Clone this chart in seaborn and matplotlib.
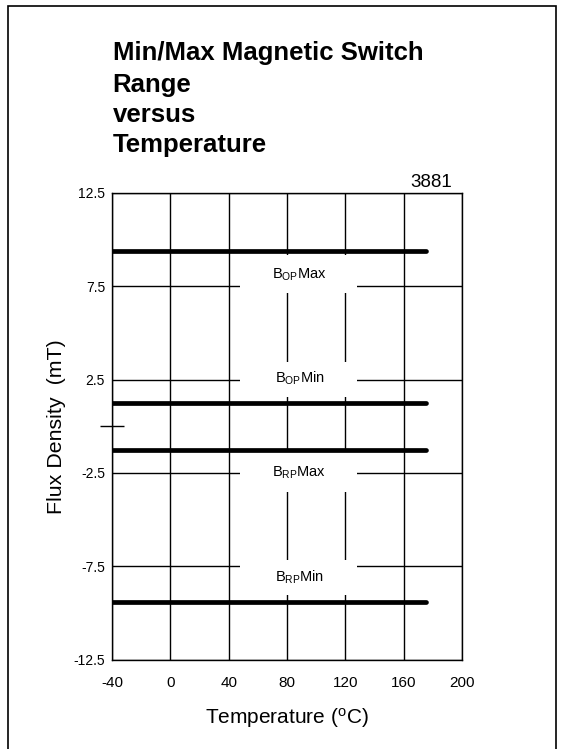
import pandas as pd
import matplotlib
matplotlib.use('Agg')
import matplotlib.pyplot as plt
from matplotlib.patches import Rectangle
import seaborn as sns

# Datos
temperaturas = [-40, 175]
series = ['BOP Max', 'BOP Min', 'BRP Max', 'BRP Min']
flujo = [9.4, 1.25, -1.25, -9.4]
etiquetas = [r'$\mathregular{B_{OP}}$Max', r'$\mathregular{B_{OP}}$Min',
             r'$\mathregular{B_{RP}}$Max', r'$\mathregular{B_{RP}}$Min']
x_ticks = [-40, 0, 40, 80, 120, 160, 200]
y_ticks = [12.5, 7.5, 2.5, -2.5, -7.5, -12.5]
y_tick_labels = ['12.5', '7.5', '2.5', '-2.5', '-7.5', '-12.5']
titulo = ['Min/Max Magnetic Switch', 'Range', 'versus', 'Temperature']

# Posiciones de las etiquetas y de sus cajas blancas (solo diseño)
etiqueta_xy = [(88.5, 8.1), (88.5, 2.58), (88.5, -2.5), (88.5, -8.08)]
caja_y = [(7.14, 9.17), (1.56, 3.44), (-3.53, -1.38), (-9.05, -7.17)]
caja_x = (48, 128)

sns.set_style('white')
plt.rcParams['font.family'] = ['Liberation Sans', 'DejaVu Sans']
plt.rcParams['mathtext.fontset'] = 'custom'
plt.rcParams['mathtext.rm'] = 'Liberation Sans'
plt.rcParams['axes.unicode_minus'] = False
plt.rcParams['text.color'] = 'black'
plt.rcParams['axes.labelcolor'] = 'black'
plt.rcParams['xtick.color'] = 'black'
plt.rcParams['ytick.color'] = 'black'

# Tabla en formato largo para seaborn
filas = []
for nombre, valor in zip(series, flujo):
    for t in temperaturas:
        filas.append({'serie': nombre, 'temp': t, 'flujo': valor})
datos = pd.DataFrame(filas)

fig = plt.figure(figsize=(5.61, 7.49), dpi=100)
ax = fig.add_axes([112 / 561, 1 - 659.5 / 749, 350 / 561, 466.5 / 749])

# Lineas gruesas
sns.lineplot(data=datos, x='temp', y='flujo', units='serie', estimator=None,
             color='black', lw=3.4, solid_capstyle='round', zorder=3, ax=ax)

# Cajas blancas detras de las etiquetas
for (y0, y1) in caja_y:
    ax.add_patch(Rectangle((caja_x[0], y0), caja_x[1] - caja_x[0], y1 - y0,
                           facecolor='white', edgecolor='none', zorder=2))
for (x, y), texto in zip(etiqueta_xy, etiquetas):
    ax.text(x, y, texto, ha='center', va='center', fontsize=10.5, zorder=4)

# Ejes
ax.set_xlim(-40, 200)
ax.set_ylim(-12.5, 12.5)
ax.set_xticks(x_ticks)
ax.set_yticks(y_ticks)
ax.set_yticklabels(y_tick_labels)
ax.set_yticks([0], minor=True)
ax.tick_params(axis='x', length=0, pad=12, labelsize=11)
ax.tick_params(axis='y', length=0, pad=5, labelsize=10)
ax.tick_params(axis='y', which='minor', left=True, direction='inout',
               length=17, width=1, color='black')
ax.grid(True, which='major', color='black', lw=1.0)
for s in ax.spines.values():
    s.set_color('black')
    s.set_linewidth(1.0)

ax.set_xlabel(r'Temperature ($\mathregular{^o}$C)', fontsize=15)
ax.set_ylabel('Flux Density  (mT)', fontsize=15.4)
ax.xaxis.set_label_coords(0.5, -0.1)
ax.yaxis.set_label_coords(-0.131, 0.5)

# Titulo en cuatro lineas
base = [60, 91.7, 121.7, 151.7]
for linea, y in zip(titulo, base):
    fig.text(112.7 / 561, 1 - y / 749, linea, fontsize=18.5,
             fontweight='bold', va='baseline', ha='left')
fig.text(452 / 561, 1 - 187.3 / 749, '3881', fontsize=13.5,
         ha='right', va='baseline')

# Marco de la figura
fig.add_artist(Rectangle((8 / 561, -0.05), 548 / 561, 1.05 - 6 / 749,
                         transform=fig.transFigure, fill=False,
                         edgecolor='black', lw=1.2))

fig.savefig('out.png', dpi=100)
